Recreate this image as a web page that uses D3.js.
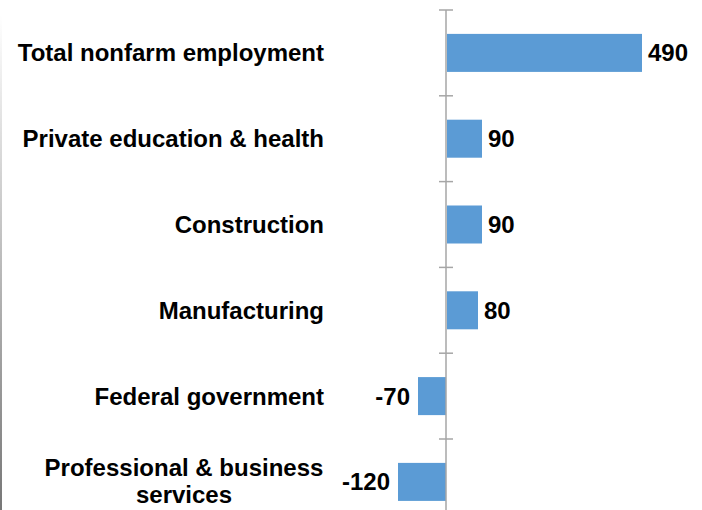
<!DOCTYPE html>
<html>
<head>
<meta charset="utf-8">
<script src="https://cdn.jsdelivr.net/npm/d3@7"></script>
<style>
  body { margin: 0; background: #fff; }
  text { font-family: "Liberation Sans", Arial, sans-serif; font-weight: bold; fill: #000; }
</style>
</head>
<body>
<svg id="chart" width="702" height="510"></svg>
<script>
// categories and job changes (thousands)
const categories = ["Total nonfarm employment", "Private education & health", "Construction",
    "Manufacturing", "Federal government", "Professional & business services"];
const labelLines = [["Total nonfarm employment"], ["Private education & health"], ["Construction"],
    ["Manufacturing"], ["Federal government"], ["Professional & business", "services"]];
const values = [490, 90, 90, 80, -70, -120];

const svg = d3.select("#chart");
const axisX = 446;

// left edge gray border
const defs = svg.append("defs");
const grad = defs.append("linearGradient").attr("id", "edge")
    .attr("x1", 0).attr("y1", 0).attr("x2", 0).attr("y2", 1);
grad.append("stop").attr("offset", "0%").attr("stop-color", "#fff");
grad.append("stop").attr("offset", "100%").attr("stop-color", "#777");
svg.append("rect").attr("x", 0).attr("y", 15).attr("width", 2).attr("height", 495)
    .attr("fill", "url(#edge)");

// scales
const xScale = d3.scaleLinear().domain([0, 490]).range([axisX, axisX + 196]);
const yScale = d3.scaleBand().domain(categories).range([10, 10 + 6 * 85.8]).paddingInner(0.557).paddingOuter(0.2785);

// bars
svg.selectAll(".bar").data(values).enter().append("rect")
    .attr("class", "bar")
    .attr("x", d => d >= 0 ? xScale(0) + 1 : xScale(d))
    .attr("y", (d, i) => yScale(categories[i]))
    .attr("width", d => Math.abs(xScale(d) - xScale(0)) - (d >= 0 ? 1 : 0))
    .attr("height", yScale.bandwidth())
    .attr("fill", "#5b9bd5");

// axis line with ticks between categories
svg.append("line").attr("x1", axisX).attr("x2", axisX).attr("y1", 10).attr("y2", 510)
    .attr("stroke", "#a6a6a6").attr("stroke-width", 1.5);
const tickYs = d3.range(7).map(i => 10 + i * yScale.step());
svg.selectAll(".tick").data(tickYs).enter().append("line")
    .attr("x1", axisX - 7).attr("x2", axisX + 7)
    .attr("y1", d => d).attr("y2", d => d)
    .attr("stroke", "#a6a6a6").attr("stroke-width", 1.5);

// category labels
labelLines.forEach(function (lines, i) {
    const cy = yScale(categories[i]) + yScale.bandwidth() / 2;
    const t = svg.append("text")
        .style("font-size", "24px");
    if (lines.length === 1) {
        t.attr("x", 324).attr("y", cy + 8.5).attr("text-anchor", "end").text(lines[0]);
    } else {
        t.attr("text-anchor", "middle").attr("y", cy - 6);
        lines.forEach(function (l, j) {
            t.append("tspan").attr("x", 184).attr("dy", j === 0 ? 0 : 27).text(l);
        });
    }
});

// value labels
svg.selectAll(".val").data(values).enter().append("text")
    .attr("x", d => d >= 0 ? xScale(d) + 6 : xScale(d) - 8)
    .attr("y", (d, i) => yScale(categories[i]) + yScale.bandwidth() / 2 + 8.5)
    .attr("text-anchor", d => d >= 0 ? "start" : "end")
    .style("font-size", "24px")
    .text(d => d);
</script>
</body>
</html>
